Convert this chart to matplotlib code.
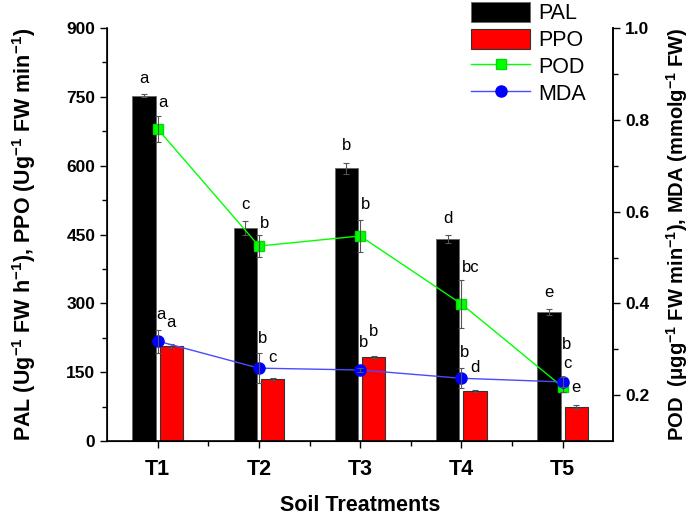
import numpy as np
import matplotlib
matplotlib.use("Agg")
import matplotlib.pyplot as plt
from matplotlib.ticker import MultipleLocator, FixedLocator

plt.rcParams['font.family'] = ['Liberation Sans', 'DejaVu Sans']
plt.rcParams['mathtext.fontset'] = 'custom'
plt.rcParams['mathtext.rm'] = 'Liberation Sans:bold'
plt.rcParams['mathtext.default'] = 'rm'

# data
treatments = ['T1', 'T2', 'T3', 'T4', 'T5']
pal = [753, 464, 595, 440, 281]
pal_err = [3, 15, 12, 9, 6]
ppo = [207, 135, 183, 109, 74]
ppo_err = [4, 2, 2, 2, 4]
pod = [0.78, 0.525, 0.547, 0.399, 0.218]
pod_err = [0.028, 0.024, 0.035, 0.053, 0.01]
mda = [0.318, 0.259, 0.255, 0.237, 0.229]
mda_err = [0.025, 0.033, 0.005, 0.022, 0.01]

pal_let = ['a', 'c', 'b', 'd', 'e']
ppo_let = ['a', 'c', 'b', 'd', 'e']
pod_let = ['a', 'b', 'b', 'bc', 'c']
mda_let = ['a', 'b', 'b', 'b', 'b']

# letter offsets above the error bar top, in pixels
pal_dy = [16, 17, 17, 17, 17]
ppo_dy = [22, 21, 25, 23, 18]
pod_dy = [14, 12, 15, 12, 19]
mda_dy = [15, 15, 25, 16, 33]

x = np.arange(1, len(treatments) + 1)
w = 0.23
off = 0.135

fig = plt.figure(figsize=(7, 5.19), dpi=100)
ax = fig.add_axes([0.153, 0.150, 0.723, 0.796])

ecol = '#555555'
b1 = ax.bar(x - off, pal, w, color='black', edgecolor='#666666', linewidth=0.6, label='PAL')
b2 = ax.bar(x + off, ppo, w, color='#ff0000', edgecolor='#333333', linewidth=0.8, label='PPO')
ax.errorbar(x - off, pal, yerr=pal_err, fmt='none', ecolor=ecol, elinewidth=0.8, capsize=2.5, capthick=0.8)
ax.errorbar(x + off, ppo, yerr=ppo_err, fmt='none', ecolor=ecol, elinewidth=0.8, capsize=2.5, capthick=0.8)

for i in range(len(x)):
    ax.annotate(pal_let[i], (x[i] - off, pal[i] + pal_err[i]), xytext=(0, pal_dy[i]),
                textcoords='offset pixels', ha='center', va='center', fontsize=12)
    ax.annotate(ppo_let[i], (x[i] + off, ppo[i] + ppo_err[i]), xytext=(0, ppo_dy[i]),
                textcoords='offset pixels', ha='center', va='center', fontsize=12)

ax.set_xlim(0.5, 5.5)
ax.set_ylim(0, 900)
ax.set_xticks(x)
ax.set_xticklabels(treatments, fontsize=15.5, fontweight='bold')
ax.xaxis.set_minor_locator(FixedLocator([1.5, 2.5, 3.5, 4.5]))
ax.yaxis.set_major_locator(MultipleLocator(150))
ax.yaxis.set_minor_locator(MultipleLocator(75))
for lab in ax.get_yticklabels():
    lab.set_fontweight('bold')
ax.tick_params(axis='both', which='major', length=5, width=1, direction='out')
ax.tick_params(axis='both', which='minor', length=3.5, width=1, direction='out')
ax.tick_params(axis='y', labelsize=12.5)
ax.tick_params(axis='x', pad=8)
ax.spines['top'].set_visible(False)
for s in ['left', 'bottom', 'right']:
    ax.spines[s].set_linewidth(1.2)

ax.set_xlabel('Soil Treatments', fontsize=15.5, fontweight='bold', labelpad=11)
ax.set_ylabel(r'PAL (Ug$^{-1}$ FW h$^{-1}$), PPO (Ug$^{-1}$ FW min$^{-1}$)',
              fontsize=15.5, fontweight='bold', labelpad=20)

ax2 = ax.twinx()
ax2.spines['top'].set_visible(False)
ax2.spines['right'].set_linewidth(1.2)
l1, = ax2.plot(x, pod, color='#00ff00', lw=1, marker='s', markersize=7,
               markerfacecolor='#00ff00', markeredgecolor='#00dd00', label='POD')
ax2.errorbar(x, pod, yerr=pod_err, fmt='none', ecolor=ecol, elinewidth=0.8, capsize=2.5, capthick=0.8)
l2, = ax2.plot(x, mda, color='#4a4aff', lw=1, marker='o', markersize=8,
               markerfacecolor='#0000ff', markeredgecolor='#0000ff', label='MDA')
ax2.errorbar(x, mda, yerr=mda_err, fmt='none', ecolor=ecol, elinewidth=0.8, capsize=2.5, capthick=0.8)
for i in range(len(x)):
    ax2.annotate(pod_let[i], (x[i], pod[i] + pod_err[i]), xytext=(1, pod_dy[i]),
                 textcoords='offset pixels', ha='left', va='center', fontsize=12)
    ax2.annotate(mda_let[i], (x[i], mda[i] + mda_err[i]), xytext=(-1, mda_dy[i]),
                 textcoords='offset pixels', ha='left', va='center', fontsize=12)

ax2.set_ylim(0.1, 1.0)
ax2.yaxis.set_major_locator(FixedLocator([0.2, 0.4, 0.6, 0.8, 1.0]))
ax2.yaxis.set_minor_locator(FixedLocator([0.3, 0.5, 0.7, 0.9]))
ax2.set_yticklabels(['0.2', '0.4', '0.6', '0.8', '1.0'], fontsize=12.5, fontweight='bold')
ax2.tick_params(axis='y', which='major', length=5, width=1, direction='out')
ax2.tick_params(axis='y', which='minor', length=3.5, width=1, direction='out')
ax2.set_ylabel(r'POD  ($\mu$gg$^{-1}$ FW min$^{-1}$), MDA (mmolg$^{-1}$ FW)',
               fontsize=14.5, fontweight='bold', labelpad=11)

fig.legend([b1, b2, l1, l2], ['PAL', 'PPO', 'POD', 'MDA'], loc='upper left',
           bbox_to_anchor=(0.673, 0.997), frameon=False, fontsize=15.5,
           handlelength=2.75, handleheight=1.05, handletextpad=0.35,
           labelspacing=0.22, borderpad=0, borderaxespad=0)

fig.savefig('out.png', dpi=100)
